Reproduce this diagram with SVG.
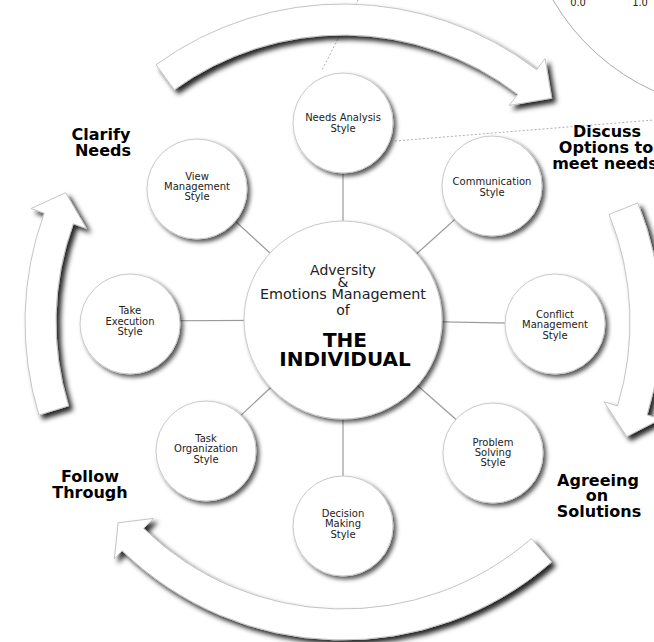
<svg xmlns="http://www.w3.org/2000/svg" width="654" height="642" viewBox="0 0 654 642">
<defs>
<filter id="sh" x="-20%" y="-20%" width="150%" height="150%">
<feDropShadow dx="3" dy="3" stdDeviation="2.2" flood-color="#000" flood-opacity="0.65"/>
</filter>
<filter id="ash" x="-20%" y="-20%" width="150%" height="150%">
<feDropShadow dx="4" dy="4" stdDeviation="2.5" flood-color="#000" flood-opacity="0.85"/>
</filter>
<style>
.arrow{fill:#fff;stroke:#c4c4c4;stroke-width:1;filter:url(#ash)}
.node{fill:#fff;stroke:#c8c8c8;stroke-width:1;filter:url(#sh)}
.conn{stroke:#9a9a9a;stroke-width:1.2;fill:none}
.dot{stroke:#999;stroke-width:0.8;stroke-dasharray:2 2;fill:none}
.t{font-family:"DejaVu Sans",Verdana,sans-serif;font-size:10px;fill:#222;text-anchor:middle}
.c{font-family:"DejaVu Sans",Verdana,sans-serif;font-size:14px;fill:#222;text-anchor:middle}
.cb{font-family:"DejaVu Sans",Verdana,sans-serif;font-size:20px;font-weight:bold;fill:#000;text-anchor:middle}
.lbl{font-family:"DejaVu Sans",Verdana,sans-serif;font-size:16px;font-weight:bold;fill:#000;text-anchor:middle}
.ax{font-family:"DejaVu Sans Condensed","DejaVu Sans",sans-serif;font-size:11px;fill:#222;text-anchor:middle}
</style>
</defs>
<rect width="654" height="642" fill="#fff"/>

<g id="artifact">
<path d="M553,0 A223,223 0 0 0 654,91" fill="none" stroke="#aaa" stroke-width="1"/>
<text class="ax" x="578" y="6">0.0</text>
<text class="ax" x="640" y="6">1.0</text>
<path class="dot" d="M358,0 L322,70"/>
<path class="dot" d="M395,141 L654,120"/>
</g>

<g id="arrows">
<path id="arrow-top" class="arrow" d="M156.1,64.7 A318,318 0 0 1 536.6,69.7 L545.1,58.6 L551.7,98.2 L509.2,105.4 L517.7,94.3 A287,287 0 0 0 174.3,89.8 Z"/>
<path id="arrow-right" class="arrow" d="M637.8,202.9 A318,318 0 0 1 647.1,415.0 L660.5,419.1 L626.7,436.6 L604.1,401.8 L617.5,405.9 A287,287 0 0 0 609.1,214.5 Z"/>
<path id="arrow-bottom" class="arrow" d="M551.6,562.0 A318,318 0 0 1 122.1,550.7 L114.4,558.8 L118.1,522.8 L153.3,518.4 L143.6,528.4 A287,287 0 0 0 531.3,538.6 Z"/>
<path id="arrow-left" class="arrow" d="M38.9,415.0 A318,318 0 0 1 44.2,213.2 L31.0,208.5 L65.7,192.7 L86.5,228.6 L73.3,223.8 A287,287 0 0 0 68.5,405.9 Z"/>
</g>

<g id="connectors">
<line class="conn" x1="343" y1="320" x2="343" y2="122"/>
<line class="conn" x1="343" y1="320" x2="492" y2="186"/>
<line class="conn" x1="343" y1="320" x2="555" y2="324"/>
<line class="conn" x1="343" y1="320" x2="493" y2="452"/>
<line class="conn" x1="343" y1="320" x2="343" y2="523"/>
<line class="conn" x1="343" y1="320" x2="206" y2="448"/>
<line class="conn" x1="343" y1="320" x2="130" y2="321"/>
<line class="conn" x1="343" y1="320" x2="197" y2="186"/>
</g>

<g id="center">
<circle class="node" cx="343" cy="320" r="99"/>
<text class="c" x="343" y="275">Adversity</text>
<text class="c" x="343" y="287">&amp;</text>
<text class="c" x="343" y="299" textLength="166" lengthAdjust="spacingAndGlyphs">Emotions Management</text>
<text class="c" x="343" y="315">of</text>
<text class="cb" x="345" y="347">THE</text>
<text class="cb" x="345" y="366">INDIVIDUAL</text>
</g>

<g id="needs-analysis">
<circle class="node" cx="343" cy="123" r="50"/>
<text class="t" x="343" y="121">Needs Analysis</text>
<text class="t" x="343" y="132">Style</text>
</g>
<g id="communication">
<circle class="node" cx="492" cy="186" r="50"/>
<text class="t" x="492" y="185">Communication</text>
<text class="t" x="492" y="196">Style</text>
</g>
<g id="conflict">
<circle class="node" cx="555" cy="324" r="50"/>
<text class="t" x="555" y="318">Conflict</text>
<text class="t" x="555" y="328">Management</text>
<text class="t" x="555" y="339">Style</text>
</g>
<g id="problem-solving">
<circle class="node" cx="493" cy="453" r="50"/>
<text class="t" x="493" y="446">Problem</text>
<text class="t" x="493" y="456">Solving</text>
<text class="t" x="493" y="466">Style</text>
</g>
<g id="decision-making">
<circle class="node" cx="343" cy="526" r="50"/>
<text class="t" x="343" y="517">Decision</text>
<text class="t" x="343" y="527">Making</text>
<text class="t" x="343" y="538">Style</text>
</g>
<g id="task-organization">
<circle class="node" cx="206" cy="451" r="50"/>
<text class="t" x="206" y="442">Task</text>
<text class="t" x="206" y="452">Organization</text>
<text class="t" x="206" y="463">Style</text>
</g>
<g id="take-execution">
<circle class="node" cx="130" cy="324" r="50"/>
<text class="t" x="130" y="314">Take</text>
<text class="t" x="130" y="325">Execution</text>
<text class="t" x="130" y="335">Style</text>
</g>
<g id="view-management">
<circle class="node" cx="197" cy="189" r="50"/>
<text class="t" x="197" y="180">View</text>
<text class="t" x="197" y="190">Management</text>
<text class="t" x="197" y="200">Style</text>
</g>

<g id="labels">
<text class="lbl" x="101" y="140">Clarify</text>
<text class="lbl" x="103" y="156">Needs</text>
<text class="lbl" x="607" y="137">Discuss</text>
<text class="lbl" x="606" y="153">Options to</text>
<text class="lbl" x="605" y="169">meet needs</text>
<text class="lbl" x="90" y="482">Follow</text>
<text class="lbl" x="90" y="498">Through</text>
<text class="lbl" x="598" y="486">Agreeing</text>
<text class="lbl" x="597" y="501">on</text>
<text class="lbl" x="599" y="517">Solutions</text>
</g>
</svg>
